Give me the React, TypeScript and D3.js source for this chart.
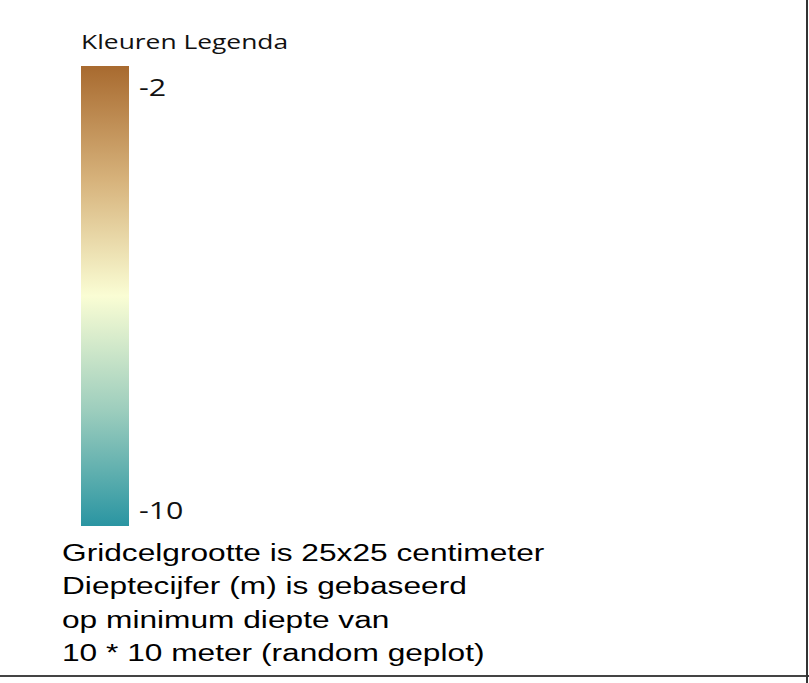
import React from "react";
import * as d3 from "d3";

const title = "Kleuren Legenda";
const depthDomain = [-2, -10];
const tickValues = [-2, -10];
const rampOffsets = [0, 0.25, 0.5, 0.75, 1];
const rampColors = ["#a86a2f", "#d7b37c", "#fafdd4", "#9ccdbd", "#2a95a2"];
const notes = [
  "Gridcelgrootte is 25x25 centimeter",
  "Dieptecijfer (m) is gebaseerd",
  "op minimum diepte van",
  "10 * 10 meter (random geplot)",
];

const W = 809;
const H = 683;
const SX = 1.32;

function SText(props: {
  x: number;
  y: number;
  size: number;
  family: string;
  fill: string;
  children: React.ReactNode;
}) {
  return (
    <g transform={`translate(${props.x},${props.y}) scale(${SX},1)`}>
      <text
        x={0}
        y={0}
        fontFamily={props.family}
        fontSize={props.size}
        fill={props.fill}
      >
        {props.children}
      </text>
    </g>
  );
}

export default function App() {
  const bar = { x: 81, w: 48, top: 66, bottom: 526 };
  const y = d3.scaleLinear().domain(depthDomain).range([bar.top, bar.bottom]);
  const labelY = (v: number, i: number) => (i === 0 ? y(v) + 30 : y(v) - 7);
  const humanist = "'Open Sans', 'Noto Sans', sans-serif";
  return (
    <svg
      width={W}
      height={H}
      style={{ position: "fixed", left: 0, top: 0, background: "#fff" }}
    >
      <defs>
        <linearGradient id="ramp" x1="0" y1="0" x2="0" y2="1">
          {rampOffsets.map((o, i) => (
            <stop key={i} offset={o} stopColor={rampColors[i]} />
          ))}
        </linearGradient>
      </defs>
      <rect x={0} y={0} width={W} height={H} fill="#fff" />
      <SText x={81} y={49} size={20} family={humanist} fill="#111">
        {title}
      </SText>
      <rect
        x={bar.x}
        y={y(depthDomain[0])}
        width={bar.w}
        height={y(depthDomain[1]) - y(depthDomain[0])}
        fill="url(#ramp)"
      />
      {tickValues.map((v, i) => (
        <SText
          key={v}
          x={139}
          y={labelY(v, i)}
          size={23}
          family={humanist}
          fill="#111"
        >
          {String(v)}
        </SText>
      ))}
      {notes.map((t, i) => (
        <SText
          key={i}
          x={62}
          y={561 + i * 33.3}
          size={24}
          family="'Liberation Sans', Arial, sans-serif"
          fill="#000"
        >
          {t}
        </SText>
      ))}
      <line x1={0} x2={809} y1={676} y2={676} stroke="#444" strokeWidth={2} />
      <line x1={807} x2={807} y1={0} y2={683} stroke="#333" strokeWidth={2} />
    </svg>
  );
}
